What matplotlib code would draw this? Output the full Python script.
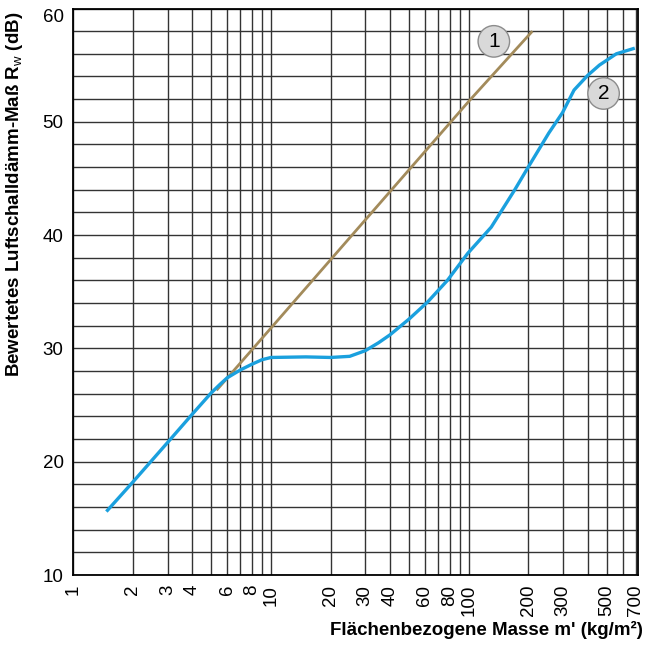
import matplotlib
matplotlib.use("Agg")
import matplotlib.pyplot as plt
from matplotlib.ticker import FixedLocator, NullFormatter, NullLocator

plt.rcParams['font.family'] = ['Liberation Sans', 'DejaVu Sans']
plt.rcParams['mathtext.fontset'] = 'custom'
plt.rcParams['mathtext.rm'] = 'Liberation Sans'
plt.rcParams['mathtext.bf'] = 'Liberation Sans:bold'

# curve 1: mass law line
mass_1 = [5.3, 10, 100, 210]
rw_1 = [26.3, 31.8, 51.8, 58.0]

# curve 2: measured / real curve
mass_2 = [1.47, 2, 3, 4, 5, 5.5, 6, 7, 8, 9, 10, 15, 20, 25, 30, 35, 40, 50,
          62, 78, 99, 130, 171, 200, 254, 298, 341, 400, 458, 558, 692]
rw_2 = [15.6, 18.2, 21.7, 24.2, 26.1, 26.8, 27.4, 28.1, 28.6, 29.0, 29.2, 29.25,
        29.2, 29.3, 29.8, 30.5, 31.2, 32.6, 34.1, 36.0, 38.4, 40.7, 44.0, 46.0,
        49.0, 50.8, 52.8, 54.1, 55.0, 56.0, 56.5]

x_ticks = [1, 2, 3, 4, 6, 8, 10, 20, 30, 40, 60, 80, 100, 200, 300, 500, 700]
x_grid = [1, 2, 3, 4, 5, 6, 7, 8, 9, 10, 20, 30, 40, 50, 60, 70, 80, 90,
          100, 200, 300, 400, 500, 600, 700]
y_ticks = [10, 20, 30, 40, 50, 60]
y_grid = list(range(10, 61, 2))

fig = plt.figure(figsize=(6.46, 6.52), dpi=100)
ax = fig.add_axes([73.3/646, 1-575/652, (638.2-73.3)/646, (575-8.5)/652])

ax.set_xscale('log')
ax.set_xlim(1, 720)
ax.set_ylim(10, 60)

for xv in x_grid:
    ax.axvline(xv, color='#333333', lw=1.0, zorder=1)
for yv in y_grid:
    ax.axhline(yv, color='#333333', lw=1.0, zorder=1)

ax.plot(mass_1, rw_1, color='#A38B5B', lw=2.0, zorder=3, solid_capstyle='butt')
ax.plot(mass_2, rw_2, color='#1AA0DE', lw=2.4, zorder=4,
        solid_joinstyle='round', solid_capstyle='butt')

bbox = dict(boxstyle='circle,pad=0.3', fc='#d9d9d9', ec='#8c8c8c', lw=1.0)
ax.text(134, 57.1, '1', fontsize=15, ha='center', va='center', bbox=bbox, zorder=5)
ax.text(481, 52.5, '2', fontsize=15, ha='center', va='center', bbox=bbox, zorder=5)

ax.xaxis.set_major_locator(FixedLocator(x_ticks))
ax.xaxis.set_minor_locator(NullLocator())
ax.xaxis.set_minor_formatter(NullFormatter())
ax.set_xticklabels([str(v) for v in x_ticks], rotation=90, fontsize=13.5)
ax.set_yticks(y_ticks)
ax.set_yticklabels([str(v) for v in y_ticks], fontsize=13.5)
ax.tick_params(axis='both', length=0, pad=7)
ax.get_yticklabels()[-1].set_va('top')

for s in ax.spines.values():
    s.set_color('black')
    s.set_linewidth(1.3)
    s.set_zorder(6)

fig.text(15/646, 1-194/652, 'Bewertetes Luftschalldämm-Maß R$_{\\mathrm{w}}$ (dB)',
         rotation=90, ha='center', va='center', fontsize=13.5, fontweight='bold')
fig.text(643/646, 1-630/652, "Flächenbezogene Masse m' (kg/m²)",
         ha='right', va='center', fontsize=13.5, fontweight='bold')

fig.savefig('out.png', dpi=100)
